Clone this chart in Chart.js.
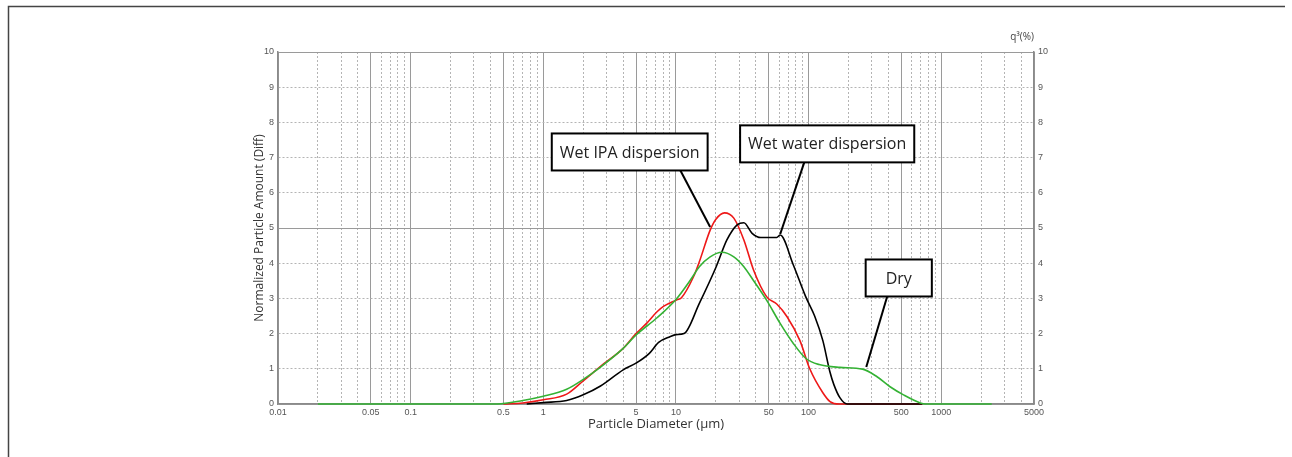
<!DOCTYPE html>
<html>
<head>
<meta charset="utf-8">
<script src="https://cdn.jsdelivr.net/npm/chart.js@4.4.1/dist/chart.umd.min.js"></script>
<style>
    html, body { margin: 0; padding: 0; background: #fff; }
    #wrap { width: 1292px; height: 457px; position: relative; }
</style>
</head>
<body>
<div id="wrap"><canvas id="psd-chart"></canvas></div>
<script>
// Particle size distribution (q3, differential)
const dryDiameter = [0.02, 0.45, 0.7, 1, 1.5, 2, 2.7, 4, 5, 7.2, 10, 13, 15, 18.1, 22.2, 27.3, 32.5, 38.5, 48.2, 61, 76.7, 95, 120, 172, 255, 326, 411, 519, 695, 760, 2400];
const dryValues = [0, 0, 0.1, 0.22, 0.42, 0.7, 1.05, 1.58, 1.96, 2.45, 2.97, 3.55, 3.9, 4.18, 4.31, 4.18, 3.9, 3.5, 2.95, 2.29, 1.72, 1.3, 1.12, 1.04, 0.99, 0.78, 0.49, 0.26, 0.03, 0, 0];

const ipaDiameter = [0.5, 0.7, 1, 1.5, 2, 2.7, 4, 5, 6, 7.2, 8.1, 10, 11, 13.5, 15, 18.1, 20, 23.2, 27.3, 32.5, 38.5, 48.2, 57.5, 68.8, 86, 102, 128, 145, 170, 720];
const ipaValues = [0, 0.03, 0.12, 0.28, 0.66, 1.07, 1.58, 2.0, 2.29, 2.62, 2.78, 2.95, 3.02, 3.6, 4.04, 4.94, 5.25, 5.43, 5.28, 4.66, 3.8, 3.05, 2.84, 2.48, 1.8, 1.0, 0.32, 0.07, 0, 0];

const waterDiameter = [0.75, 1, 1.5, 2, 2.7, 4, 5, 6.3, 7.4, 9, 10, 11.5, 15, 20.1, 24.2, 28.9, 32.5, 37.5, 43.6, 57.5, 61, 76.7, 95, 111, 128, 145, 155, 172, 195, 720];
const waterValues = [0, 0.04, 0.1, 0.26, 0.51, 0.97, 1.16, 1.44, 1.75, 1.91, 1.97, 2.0, 2.86, 3.9, 4.66, 5.09, 5.15, 4.85, 4.73, 4.73, 4.8, 3.95, 3.05, 2.5, 1.8, 0.9, 0.55, 0.18, 0, 0];

const xTickLabels = [0.01, 0.05, 0.1, 0.5, 1, 5, 10, 50, 100, 500, 1000, 5000];
const yTickValues = [0, 1, 2, 3, 4, 5, 6, 7, 8, 9, 10];

// callouts: box centre and leader end, in data units
const callouts = [
    { text: 'Wet IPA dispersion', x: 4.48, y: 7.16, pad: 8, fromX: 10.8, toX: 18.1, toY: 5.03 },
    { text: 'Wet water dispersion', x: 138, y: 7.39, pad: 8, fromX: 92.7, toX: 61.1, toY: 4.83 },
    { text: 'Dry', x: 478, y: 3.58, pad: 20, fromX: 391, toX: 272, toY: 1.05 }
];

// all 1..9 x 10^n grid positions between 0.01 and 5000
const xGrid = [];
for (let e = -2; e <= 3; e++) {
    for (let m = 1; m <= 9; m++) {
        const v = parseFloat((m * Math.pow(10, e)).toPrecision(3));
        if (v <= 5000) xGrid.push(v);
    }
}

function isLabelled(v) {
    return xTickLabels.some(l => Math.abs(l - v) / l < 1e-6);
}

function toPoints(xs, ys) {
    return xs.map((x, i) => ({ x: x, y: ys[i] }));
}

const frame = {
    id: 'frame',
    beforeDraw(chart) {
        const ctx = chart.ctx;
        ctx.save();
        ctx.strokeStyle = '#444';
        ctx.lineWidth = 1.5;
        ctx.beginPath();
        ctx.moveTo(8.5, chart.height);
        ctx.lineTo(8.5, 6.5);
        ctx.lineTo(1285, 6.5);
        ctx.stroke();
        ctx.restore();
    }
};

const calloutPlugin = {
    id: 'callouts',
    afterDatasetsDraw(chart) {
        const ctx = chart.ctx;
        const xs = chart.scales.x;
        const ys = chart.scales.y;
        const area = chart.chartArea;
        ctx.save();
        ctx.font = '16px "Open Sans"';
        callouts.forEach(c => {
            const cx = xs.getPixelForValue(c.x);
            const cy = ys.getPixelForValue(c.y);
            const w = ctx.measureText(c.text).width + c.pad * 2;
            const h = 37;
            const bottom = cy + h / 2;
            ctx.strokeStyle = '#000';
            ctx.lineWidth = 2;
            ctx.beginPath();
            ctx.moveTo(xs.getPixelForValue(c.fromX), bottom);
            ctx.lineTo(xs.getPixelForValue(c.toX), ys.getPixelForValue(c.toY));
            ctx.stroke();
            ctx.fillStyle = '#fff';
            ctx.fillRect(cx - w / 2, cy - h / 2, w, h);
            ctx.strokeRect(cx - w / 2, cy - h / 2, w, h);
            ctx.fillStyle = '#222';
            ctx.textAlign = 'center';
            ctx.textBaseline = 'middle';
            ctx.fillText(c.text, cx, cy + 1);
        });
        // unit label above the right axis
        ctx.font = '10px "Open Sans"';
        ctx.fillStyle = '#444';
        ctx.textAlign = 'right';
        ctx.textBaseline = 'alphabetic';
        ctx.fillText('q³(%)', area.right, area.top - 12);
        ctx.restore();
    }
};

document.addEventListener('DOMContentLoaded', function() {
    const tickFont = { family: '"Liberation Sans", Arial', size: 9 };
    const majorGrid = '#9a9a9a';
    const minorGrid = '#b4b4b4';
    const lineClip = { left: 2, top: 2, right: 2, bottom: 4 };

    new Chart(document.getElementById('psd-chart'), {
        type: 'line',
        data: {
            datasets: [
                {
                    label: 'Dry',
                    data: toPoints(dryDiameter, dryValues),
                    borderColor: 'rgb(52, 178, 52)',
                    borderWidth: 1.6,
                    clip: lineClip,
                    cubicInterpolationMode: 'monotone'
                },
                {
                    label: 'Wet water dispersion',
                    data: toPoints(waterDiameter, waterValues),
                    borderColor: 'rgb(0, 0, 0)',
                    borderWidth: 1.6,
                    clip: lineClip,
                    cubicInterpolationMode: 'monotone'
                },
                {
                    label: 'Wet IPA dispersion',
                    data: toPoints(ipaDiameter, ipaValues),
                    borderColor: 'rgb(238, 24, 24)',
                    borderWidth: 1.6,
                    clip: lineClip,
                    cubicInterpolationMode: 'monotone'
                }
            ]
        },
        options: {
            responsive: true,
            maintainAspectRatio: false,
            animation: false,
            layout: { padding: { left: 252, right: 0, top: 52, bottom: 25 } },
            elements: { point: { radius: 0 } },
            plugins: {
                legend: { display: false },
                tooltip: { enabled: false }
            },
            scales: {
                x: {
                    type: 'logarithmic',
                    min: 0.01,
                    max: 5000,
                    afterBuildTicks: function(scale) {
                        scale.ticks = xGrid.map(v => ({ value: v }));
                    },
                    afterFit: function(scale) { scale.height = 28; },
                    ticks: {
                        autoSkip: false,
                        maxRotation: 0,
                        padding: 3,
                        font: tickFont,
                        color: '#555',
                        callback: function(value) {
                            return isLabelled(value) ? String(value) : '';
                        }
                    },
                    grid: {
                        drawTicks: false,
                        lineWidth: 1,
                        color: function(ctx) {
                            return ctx.tick && isLabelled(ctx.tick.value) ? majorGrid : minorGrid;
                        }
                    },
                    border: {
                        color: '#8a8a8a',
                        width: 1.5,
                        dash: function(ctx) {
                            return ctx.tick && !isLabelled(ctx.tick.value) ? [2, 2] : [];
                        }
                    },
                    title: {
                        display: true,
                        text: 'Particle Diameter (µm)',
                        color: '#333',
                        font: { family: '"Open Sans"', size: 13 },
                        padding: 0
                    }
                },
                y: {
                    position: 'left',
                    min: 0,
                    max: 10,
                    afterBuildTicks: function(scale) {
                        scale.ticks = yTickValues.map(v => ({ value: v }));
                    },
                    afterFit: function(scale) { scale.width = 26; },
                    ticks: { padding: 4, font: tickFont, color: '#555' },
                    grid: {
                        drawTicks: false,
                        lineWidth: 1,
                        color: function(ctx) {
                            const v = ctx.tick ? ctx.tick.value : 0;
                            return v % 5 === 0 ? majorGrid : minorGrid;
                        }
                    },
                    border: {
                        color: '#8a8a8a',
                        width: 1.5,
                        dash: function(ctx) {
                            return ctx.tick && ctx.tick.value % 5 !== 0 ? [2, 2] : [];
                        }
                    },
                    title: {
                        display: true,
                        text: 'Normalized Particle Amount (Diff)',
                        color: '#333',
                        font: { family: '"Open Sans"', size: 12 },
                        padding: 0
                    }
                },
                y2: {
                    position: 'right',
                    min: 0,
                    max: 10,
                    afterBuildTicks: function(scale) {
                        scale.ticks = yTickValues.map(v => ({ value: v }));
                    },
                    afterFit: function(scale) { scale.width = 258; },
                    ticks: { padding: 4, font: tickFont, color: '#555' },
                    grid: { drawOnChartArea: false, drawTicks: false },
                    border: { color: '#8a8a8a', width: 1.5 }
                }
            }
        },
        plugins: [frame, calloutPlugin]
    });
});
</script>
</body>
</html>
